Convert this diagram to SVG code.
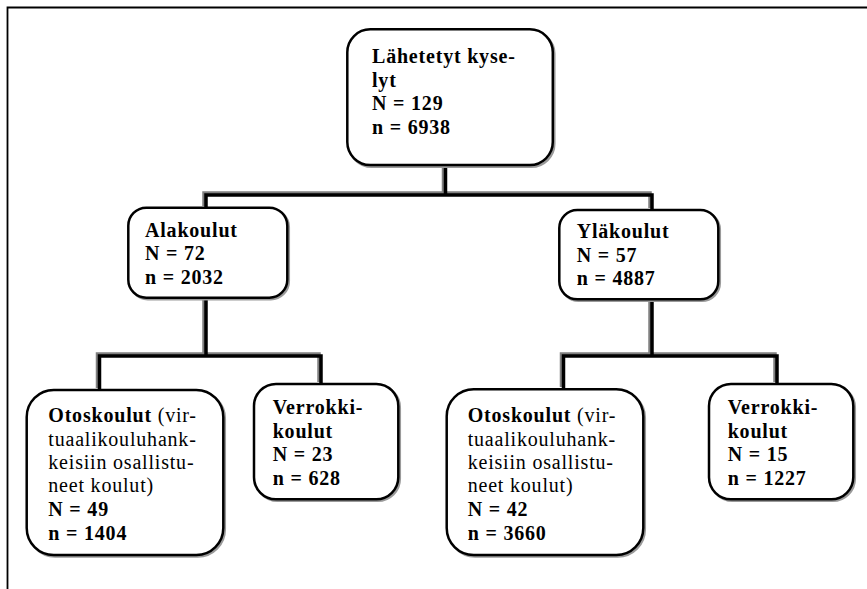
<svg xmlns="http://www.w3.org/2000/svg" width="867" height="589" viewBox="0 0 867 589">
<style>
.frame{fill:none;stroke:#000;stroke-width:1.8}
.cg{fill:none;stroke:#808080;stroke-width:3.5;stroke-linejoin:miter}
.cb{fill:none;stroke:#000;stroke-width:3.5;stroke-linejoin:miter}
.shadow{fill:none;stroke:#9a9a9a;stroke-width:2.5}
.box{fill:#fff;stroke:#000;stroke-width:2.5}
text{font-family:"Liberation Serif","Times New Roman",serif;font-size:20px;letter-spacing:0.8px;fill:#000}
.b{font-weight:bold}
.r{font-weight:normal}
</style>
<path class="frame" d="M7.5,589 V7.5 H867"/>
<g id="connectors">
<path class="cg" d="M443.5,164 V193 M204,206 V193 H650 V208"/>
<path class="cb" d="M445.5,166 V195 M206,208 V195 H652 V210"/>
<path class="cg" d="M204,296 V354 M97.5,388 V354 H319 V382"/>
<path class="cb" d="M206,298 V356 M99.5,390 V356 H321 V384"/>
<path class="cg" d="M650,298 V354 M561.5,387 V354 H775 V382"/>
<path class="cb" d="M652,300 V356 M563.5,389 V356 H777 V384"/>
</g>
<g id="lahetetyt">
<rect class="shadow" x="348.8" y="30.8" width="205.5" height="136" rx="23"/>
<rect class="box" x="347.3" y="29.3" width="205.5" height="135.7" rx="23"/>
<text class="b" x="372" y="63">Lähetetyt kyse-</text>
<text class="b" x="372" y="86.5">lyt</text>
<text class="b" x="372" y="110">N = 129</text>
<text class="b" x="372" y="133.5">n = 6938</text>
</g>
<g id="alakoulut">
<rect class="shadow" x="129.8" y="209.2" width="159" height="90" rx="18"/>
<rect class="box" x="128.3" y="207.7" width="159" height="90" rx="18"/>
<text class="b" x="145" y="236.7">Alakoulut</text>
<text class="b" x="145" y="260.3">N = 72</text>
<text class="b" x="145" y="283.6">n = 2032</text>
</g>
<g id="ylakoulut">
<rect class="shadow" x="560.8" y="211.5" width="159" height="89.3" rx="18"/>
<rect class="box" x="559.3" y="210" width="159" height="89.3" rx="18"/>
<text class="b" x="576.7" y="238.3">Yläkoulut</text>
<text class="b" x="576.7" y="261.8">N = 57</text>
<text class="b" x="576.7" y="285.2">n = 4887</text>
</g>
<g id="otoskoulut-ala">
<rect class="shadow" x="28.2" y="391.5" width="196.6" height="165" rx="27"/>
<rect class="box" x="26.7" y="390" width="196.6" height="165" rx="27"/>
<text x="48.3" y="422.3"><tspan class="b">Otoskoulut</tspan><tspan class="r"> (vir-</tspan></text>
<text class="r" x="48.3" y="445.5">tuaalikouluhank-</text>
<text class="r" x="48.3" y="468.7">keisiin osallistu-</text>
<text class="r" x="48.3" y="492">neet koulut)</text>
<text class="b" x="48.3" y="516">N = 49</text>
<text class="b" x="48.3" y="539.8">n = 1404</text>
</g>
<g id="verrokki-ala">
<rect class="shadow" x="255.5" y="385.5" width="144.3" height="115.3" rx="22"/>
<rect class="box" x="254" y="384" width="144.3" height="115.3" rx="22"/>
<text class="b" x="272.7" y="414.3">Verrokki-</text>
<text class="b" x="272.7" y="438">koulut</text>
<text class="b" x="272.7" y="461.3">N = 23</text>
<text class="b" x="272.7" y="484.5">n = 628</text>
</g>
<g id="otoskoulut-yla">
<rect class="shadow" x="448.2" y="390.8" width="196.6" height="165.7" rx="27"/>
<rect class="box" x="446.7" y="389.3" width="196.6" height="165.7" rx="27"/>
<text x="467.7" y="422.3"><tspan class="b">Otoskoulut</tspan><tspan class="r"> (vir-</tspan></text>
<text class="r" x="467.7" y="445.5">tuaalikouluhank-</text>
<text class="r" x="467.7" y="468.7">keisiin osallistu-</text>
<text class="r" x="467.7" y="492">neet koulut)</text>
<text class="b" x="467.7" y="516">N = 42</text>
<text class="b" x="467.7" y="539.8">n = 3660</text>
</g>
<g id="verrokki-yla">
<rect class="shadow" x="710.5" y="385.5" width="144.3" height="115.3" rx="22"/>
<rect class="box" x="709" y="384" width="144.3" height="115.3" rx="22"/>
<text class="b" x="727.7" y="414.3">Verrokki-</text>
<text class="b" x="727.7" y="438">koulut</text>
<text class="b" x="727.7" y="461.3">N = 15</text>
<text class="b" x="727.7" y="484.5">n = 1227</text>
</g>
</svg>
